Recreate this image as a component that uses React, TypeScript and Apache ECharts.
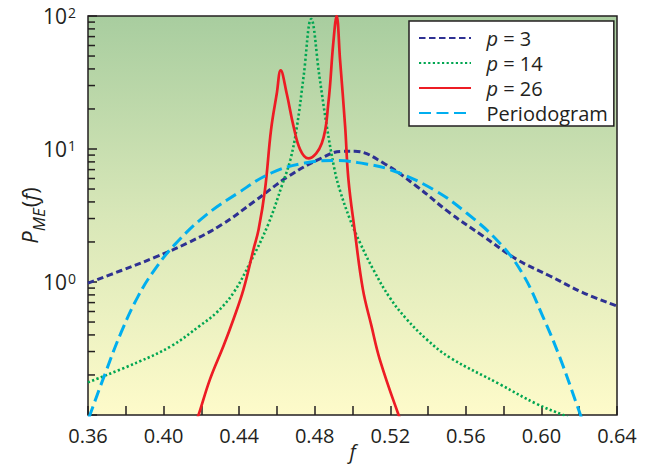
import React, { useEffect, useRef } from 'react';
import * as echarts from 'echarts';

const FONT = '"Open Sans", "Noto Sans", sans-serif';

// x-axis tick labels (every 0.02 tick, labelled every 0.04)
const xMin = 0.36;
const xMax = 0.64;
const xStep = 0.02;

// y-axis (log) range
const yMin = 0.1;
const yMax = 100;
const yMinorTicks = [0.2, 0.3, 0.4, 0.5, 0.6, 0.7, 0.8, 0.9, 2, 3, 4, 5, 6, 7, 8, 9, 20, 30, 40, 50, 60, 70, 80, 90];

const seriesNames = ['p = 3', 'p = 14', 'p = 26', 'Periodogram'];

// p = 3
const p3F = [0.36, 0.3776, 0.3953, 0.4129, 0.4306, 0.4482, 0.4659, 0.4836, 0.4942, 0.5013, 0.5163, 0.5339, 0.5516, 0.5692, 0.5869, 0.6045, 0.6222, 0.64];
const p3V = [0.98, 1.22, 1.53, 1.97, 2.69, 4.05, 6.2, 8.55, 9.6, 9.6, 7.85, 5.25, 3.3, 2.21, 1.48, 1.11, 0.83, 0.66];

// p = 14
const p14F = [0.36, 0.3865, 0.4041, 0.4193, 0.4281, 0.437, 0.4458, 0.4553, 0.4628, 0.4671, 0.4706, 0.4741, 0.4781, 0.4825, 0.4864, 0.4905, 0.4932, 0.4987, 0.504, 0.511, 0.5198, 0.5287, 0.5393, 0.5516, 0.5781, 0.5975, 0.6116, 0.614];
const p14V = [0.176, 0.25, 0.33, 0.47, 0.59, 0.83, 1.4, 2.7, 5.4, 8.3, 14.8, 35, 95, 35, 14.8, 7.0, 4.96, 2.95, 1.97, 1.24, 0.76, 0.525, 0.37, 0.27, 0.17, 0.121, 0.1, 0.097];

// p = 26
const p26F = [0.4172, 0.4185, 0.4246, 0.4317, 0.437, 0.4423, 0.4476, 0.4503, 0.4537, 0.4569, 0.4599, 0.462, 0.4652, 0.4688, 0.4723, 0.4766, 0.4837, 0.4872, 0.4898, 0.4916, 0.4934, 0.4961, 0.4978, 0.5011, 0.5055, 0.51, 0.5145, 0.5244, 0.526];
const p26V = [0.09, 0.1, 0.186, 0.33, 0.525, 0.88, 1.76, 2.48, 4.96, 14, 26, 39, 26, 14.8, 9.9, 8.5, 11, 22, 62, 100, 47, 14.8, 6.0, 2.48, 0.88, 0.47, 0.26, 0.1, 0.09];

// Periodogram
const perF = [0.3605, 0.361, 0.3688, 0.3776, 0.3865, 0.3953, 0.4059, 0.4218, 0.4395, 0.457, 0.4747, 0.4923, 0.5029, 0.5199, 0.5428, 0.5604, 0.5781, 0.5904, 0.601, 0.6098, 0.6187, 0.6212];
const perV = [0.095, 0.1, 0.2, 0.42, 0.78, 1.24, 1.91, 3.13, 4.68, 6.6, 7.85, 8.2, 7.9, 7.0, 4.96, 3.3, 1.95, 1.13, 0.54, 0.27, 0.12, 0.095];

const pairs = (f: number[], v: number[]) => f.map((x, i) => [x, v[i]]);

const legendRich = {
  i: { fontFamily: FONT, fontSize: 20, fontStyle: 'italic', color: '#231f20' },
  n: { fontFamily: FONT, fontSize: 20, color: '#231f20' },
};

export default function App() {
  const ref = useRef<HTMLDivElement>(null);
  useEffect(() => {
    const chart = echarts.init(ref.current!, null, { renderer: 'svg' });
    const lineBase = { type: 'line', showSymbol: false, symbol: 'none', smooth: 0.4, clip: true, z: 3 };
    chart.setOption({
      animation: false,
      textStyle: { fontFamily: FONT },
      grid: {
        left: 88,
        right: 32,
        top: 16,
        bottom: 49,
        outerBoundsMode: 'none',
        containLabel: false,
        show: true,
        borderColor: '#231f20',
        borderWidth: 1.5,
        backgroundColor: {
          type: 'linear', x: 0, y: 0, x2: 0, y2: 1,
          colorStops: [
            { offset: 0, color: '#a8cd9f' },
            { offset: 0.5, color: '#d8e7b8' },
            { offset: 1, color: '#fefbca' },
          ],
        },
      },
      legend: {
        data: seriesNames,
        orient: 'vertical',
        left: 409,
        top: 21,
        itemWidth: 52,
        itemHeight: 14,
        itemGap: 5,
        padding: [7, 6, 3, 9],
        backgroundColor: '#ffffff',
        borderColor: '#231f20',
        borderWidth: 1.5,
        borderRadius: 0,
        selectedMode: false,
        itemStyle: { opacity: 0 },
        formatter: (name: string) =>
          name.startsWith('p') ? '  {i|p}{n| ' + name.slice(1).trim() + '}' : '  {n|' + name + '}',
        textStyle: { fontFamily: FONT, fontSize: 20, color: '#231f20', rich: legendRich },
      },
      xAxis: {
        type: 'value',
        min: xMin,
        max: xMax,
        interval: xStep,
        name: 'f',
        nameLocation: 'middle',
        nameGap: 26,
        nameMoveOverlap: false,
        nameTextStyle: { fontFamily: FONT, fontSize: 20, fontStyle: 'italic', color: '#231f20' },
        axisLine: { show: false },
        axisTick: { show: true, inside: true, length: 9, lineStyle: { color: '#231f20', width: 1.5 } },
        splitLine: { show: false },
        axisLabel: {
          margin: 10,
          fontFamily: FONT,
          fontSize: 20,
          color: '#231f20',
          formatter: (v: number) => (Math.round(v * 100) % 4 === 0 ? v.toFixed(2) : ''),
        },
      },
      yAxis: {
        type: 'log',
        logBase: 10,
        min: yMin,
        max: yMax,
        name: '{i|P}{sub|ME}{n|(}{i|f}{n|)}',
        nameLocation: 'middle',
        nameGap: 48,
        nameMoveOverlap: false,
        nameRotate: 90,
        nameTextStyle: {
          rich: {
            i: { fontFamily: FONT, fontSize: 22, fontStyle: 'italic', color: '#231f20' },
            n: { fontFamily: FONT, fontSize: 22, color: '#231f20' },
            sub: { fontFamily: FONT, fontSize: 17, fontStyle: 'italic', color: '#231f20', verticalAlign: 'bottom', padding: [0, 1, -7, 0] },
          },
        },
        axisLine: { show: false },
        axisTick: { show: true, inside: true, length: 9, lineStyle: { color: '#231f20', width: 1.5 } },
        splitLine: { show: false },
        axisLabel: {
          margin: 12,
          formatter: (v: number) => {
            const e = Math.round(Math.log10(v));
            if (e < 0) return '';
            return '{b|10}{s|' + e + '}';
          },
          rich: {
            b: { fontFamily: FONT, fontSize: 21, color: '#231f20', verticalAlign: 'top' },
            s: { fontFamily: FONT, fontSize: 14, color: '#231f20', verticalAlign: 'top', padding: [0, 0, 0, 1] },
          },
        },
      },
      series: [
        {
          ...lineBase,
          name: seriesNames[0],
          data: pairs(p3F, p3V),
          lineStyle: { color: '#2e3192', width: 3, type: [6.5, 3.5], cap: 'butt' },
          itemStyle: { color: '#2e3192' },
        },
        {
          ...lineBase,
          name: seriesNames[1],
          data: pairs(p14F, p14V),
          lineStyle: { color: '#00a651', width: 2.6, type: [2.2, 2.4], cap: 'butt' },
          itemStyle: { color: '#00a651' },
        },
        {
          ...lineBase,
          name: seriesNames[2],
          data: pairs(p26F, p26V),
          lineStyle: { color: '#ed1c24', width: 2.7, type: 'solid' },
          itemStyle: { color: '#ed1c24' },
        },
        {
          ...lineBase,
          name: seriesNames[3],
          data: pairs(perF, perV),
          lineStyle: { color: '#00aeef', width: 3, type: [12, 5.5], cap: 'butt' },
          itemStyle: { color: '#00aeef' },
        },
        {
          type: 'custom',
          name: 'minorTicks',
          silent: true,
          clip: false,
          z: 4,
          data: yMinorTicks.map((v) => [xMin, v]),
          encode: { x: 0, y: 1 },
          renderItem: (params: any, api: any) => {
            const p = api.coord([api.value(0), api.value(1)]);
            return {
              type: 'line',
              shape: { x1: p[0], y1: p[1], x2: p[0] + 7, y2: p[1] },
              style: { stroke: '#231f20', lineWidth: 1.5 },
            };
          },
        },
      ],
    });
    return () => chart.dispose();
  }, []);
  return <div ref={ref} style={{ position: 'absolute', left: 0, top: 0, width: 649, height: 464 }} />;
}
